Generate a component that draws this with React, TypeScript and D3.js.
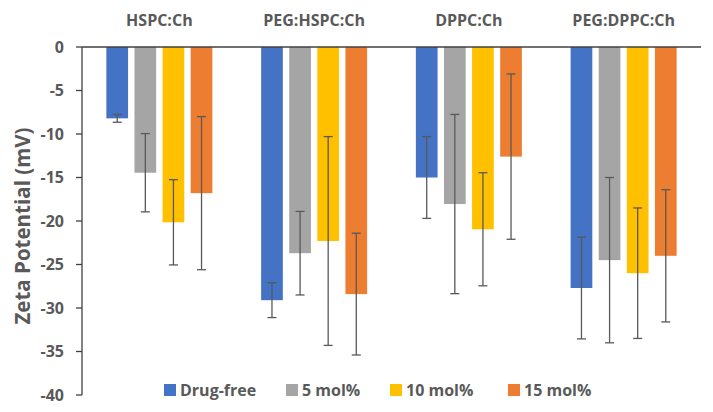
import * as d3 from "d3";

const categories = ["HSPC:Ch", "PEG:HSPC:Ch", "DPPC:Ch", "PEG:DPPC:Ch"];
const seriesNames = ["Drug-free", "5 mol%", "10 mol%", "15 mol%"];
const seriesColors = ["#4472C4", "#A5A5A5", "#FFC000", "#ED7D31"];

// rows = categories, columns = series
const meanValues = [
  [-8.2, -14.45, -20.15, -16.8],
  [-29.1, -23.7, -22.3, -28.4],
  [-15.0, -18.05, -20.95, -12.6],
  [-27.7, -24.5, -26.0, -24.0],
];
const errValues = [
  [0.45, 4.5, 4.9, 8.8],
  [2.0, 4.8, 12.0, 7.0],
  [4.7, 10.3, 6.5, 9.5],
  [5.85, 9.5, 7.5, 7.6],
];
const yTicks = [0, -5, -10, -15, -20, -25, -30, -35, -40];

const W = 713;
const H = 412;
const left = 82;
const right = 701;
const top = 47;
const bottom = 395;
const font = "'Open Sans', Lato, sans-serif";
const textColor = "#595959";

export default function App() {
  const y = d3.scaleLinear().domain([0, -40]).range([top, bottom]);
  const x0 = d3
    .scaleBand<string>()
    .domain(categories)
    .range([left, right])
    .paddingInner(0.315)
    .paddingOuter(0.1575);
  const x1 = d3
    .scaleBand<string>()
    .domain(seriesNames)
    .range([0, x0.bandwidth()])
    .paddingInner(0.228)
    .paddingOuter(0);
  const cap = 4.5;

  // legend layout
  const legendX = [164, 286, 390, 508];

  return (
    <svg
      width={W}
      height={H}
      style={{ position: "absolute", left: 0, top: 0, background: "#fff" }}
      fontFamily={font}
    >
      {/* bars */}
      {categories.map((c, ci) => (
        <g key={c} transform={`translate(${x0(c)},0)`}>
          {seriesNames.map((s, si) => {
            const v = meanValues[ci][si];
            return (
              <rect
                key={s}
                x={x1(s)}
                y={y(0)}
                width={x1.bandwidth()}
                height={y(v) - y(0)}
                fill={seriesColors[si]}
              />
            );
          })}
          {seriesNames.map((s, si) => {
            const v = meanValues[ci][si];
            const e = errValues[ci][si];
            const cx = (x1(s) ?? 0) + x1.bandwidth() / 2;
            return (
              <g key={s} stroke="#595959" strokeWidth={1.3}>
                <line x1={cx} x2={cx} y1={y(v + e)} y2={y(v - e)} />
                <line x1={cx - cap} x2={cx + cap} y1={y(v + e)} y2={y(v + e)} />
                <line x1={cx - cap} x2={cx + cap} y1={y(v - e)} y2={y(v - e)} />
              </g>
            );
          })}
          <text
            x={x0.bandwidth() / 2}
            y={26}
            textAnchor="middle"
            fontSize={16}
            fontWeight="bold"
            fill={textColor}
          >
            {c}
          </text>
        </g>
      ))}

      {/* axes */}
      <line x1={left} x2={right} y1={y(0)} y2={y(0)} stroke="#404040" strokeWidth={1.3} />
      <line x1={left} x2={left} y1={y(0)} y2={y(-40)} stroke="#404040" strokeWidth={1.3} />
      {yTicks.map((t) => (
        <g key={t}>
          <line x1={left - 6} x2={left} y1={y(t)} y2={y(t)} stroke="#404040" strokeWidth={1.3} />
          <text
            x={left - 18}
            y={y(t)}
            dy="0.36em"
            textAnchor="end"
            fontSize={16}
            fontWeight="bold"
            fill={textColor}
          >
            {t}
          </text>
        </g>
      ))}
      <text
        transform={`translate(30,226) rotate(-90)`}
        textAnchor="middle"
        fontSize={20.5}
        fontWeight="bold"
        fill={textColor}
      >
        Zeta Potential  (mV)
      </text>

      {/* legend */}
      {seriesNames.map((s, si) => (
        <g key={s} transform={`translate(${legendX[si]},390)`}>
          <rect x={0} y={-6} width={12} height={12} fill={seriesColors[si]} />
          <text x={16} y={0} dy="0.36em" fontSize={16} fontWeight="bold" fill={textColor}>
            {s}
          </text>
        </g>
      ))}
    </svg>
  );
}
